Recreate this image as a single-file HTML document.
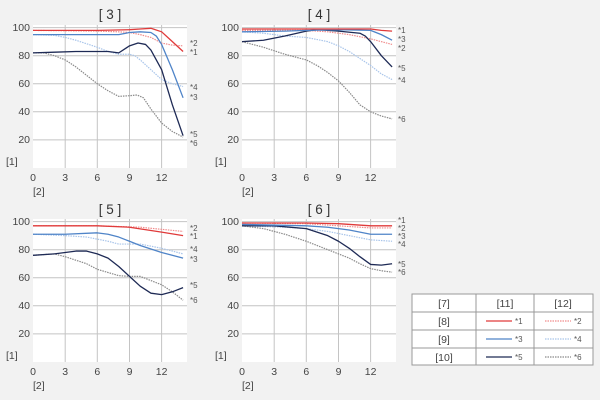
<!DOCTYPE html>
<html><head><style>
body{margin:0;background:#f2f2f2;}
svg{display:block;font-family:"Liberation Sans","DejaVu Sans",sans-serif;}
.g line{stroke:#c4c4c4;stroke-width:1}
polyline{fill:none;vector-effect:non-scaling-stroke;stroke-linejoin:round}
.s1{stroke:#e03a3a;stroke-width:1.3}
.s2{stroke:#f08c8c;stroke-width:1.2;stroke-dasharray:1.5 1}
.s3{stroke:#4f84c8;stroke-width:1.3}
.s4{stroke:#a9c5ea;stroke-width:1.2;stroke-dasharray:1.5 1}
.s5{stroke:#1e2a55;stroke-width:1.3}
.s6{stroke:#8a8a8a;stroke-width:1.2;stroke-dasharray:1.5 1}
.t{font-size:10.5px;fill:#444}
.l{font-size:8px;fill:#555}
.h{font-size:13.5px;fill:#333}
</style></head><body>
<svg width="600" height="400" viewBox="0 0 600 400">
<defs>
<g id="grid">
<rect x="0" y="-143" width="154" height="143" fill="#fff"/>
<g class="g">
<line x1="32.2" y1="-143" x2="32.2" y2="0"/><line x1="64.3" y1="-143" x2="64.3" y2="0"/>
<line x1="96.5" y1="-143" x2="96.5" y2="0"/><line x1="128.6" y1="-143" x2="128.6" y2="0"/>
<line x1="0" y1="-28.1" x2="154" y2="-28.1"/><line x1="0" y1="-56.2" x2="154" y2="-56.2"/>
<line x1="0" y1="-84.2" x2="154" y2="-84.2"/><line x1="0" y1="-112.3" x2="154" y2="-112.3"/>
<line x1="0" y1="-140.4" x2="154" y2="-140.4"/>
</g>
<text class="t" x="-3" y="-137" text-anchor="end">100</text>
<text class="t" x="-3" y="-109" text-anchor="end">80</text>
<text class="t" x="-3" y="-81" text-anchor="end">60</text>
<text class="t" x="-3" y="-53" text-anchor="end">40</text>
<text class="t" x="-3" y="-25" text-anchor="end">20</text>
<text class="t" x="0" y="13" text-anchor="middle">0</text>
<text class="t" x="32.2" y="13" text-anchor="middle">3</text>
<text class="t" x="64.3" y="13" text-anchor="middle">6</text>
<text class="t" x="96.5" y="13" text-anchor="middle">9</text>
<text class="t" x="128.6" y="13" text-anchor="middle">12</text>
<text class="t" x="-27" y="-3">[1]</text>
<text class="t" x="0" y="27">[2]</text>
</g>
</defs>

<use href="#grid" x="33" y="168"/>
<text class="h" x="110" y="19" text-anchor="middle">[ 3 ]</text>
<g transform="translate(33,168) scale(10.72,-1.404)">
<polyline class="s6" points="0,82 1,82 2,80 3,77 4,72 5,66 6,60 7,55 8,51 9,51.5 9.7,52 10.3,50 11,42 12,32 13,26 14,22"/>
<polyline class="s4" points="0,95 2,94.5 3,93 4,91 6,86 7,83 8,81 9,81 9.5,80 10,77 11,70 12,63 13,60 14,58"/>
<polyline class="s2" points="0,98 6,97.5 8,97 9,96.5 10,95 11,93 12,89 13,87.5 14,87"/>
<polyline class="s5" points="0,82 2,82.5 4,83 6,83 7,83 8,82 9,87 9.8,89 10.5,88 11,84 12,70 13,45 14,23"/>
<polyline class="s3" points="0,95 3,95 6,95 8,95 9,96.5 10,97 11,96.5 11.5,94 12,88 13,70 14,50"/>
<polyline class="s1" points="0,98 3,98 6,98 9,98.5 10,99 11,99.5 12,97 13,90 14,83"/>
</g>
<text class="l" x="190" y="46">*2</text><text class="l" x="190" y="55">*1</text>
<text class="l" x="190" y="90">*4</text><text class="l" x="190" y="100">*3</text>
<text class="l" x="190" y="137">*5</text><text class="l" x="190" y="146">*6</text>

<use href="#grid" x="242" y="168"/>
<text class="h" x="319" y="19" text-anchor="middle">[ 4 ]</text>
<g transform="translate(242,168) scale(10.72,-1.404)">
<polyline class="s6" points="0,90 2,86 4,81 6,77 7,73 8,68 9,62 10,54 11,45 12,40 13,37 14,35"/>
<polyline class="s4" points="0,97 2,96 4,94 6,93 8,90 9,87 10,83 11,78 12,73 13,67 14,63"/>
<polyline class="s2" points="0,98 6,98 8,97 10,95 12,92 13,90 14,88"/>
<polyline class="s5" points="0,90 2,91 4,94 6,97.5 7,98.5 8,98 9,97.5 11,96 11.5,94 12,90 13,80 14,72"/>
<polyline class="s3" points="0,97 4,97.5 6,98 9,98.5 12,98 13,95 14,91"/>
<polyline class="s1" points="0,99 12,99 13,98 14,97.5"/>
</g>
<text class="l" x="398" y="33">*1</text><text class="l" x="398" y="42">*3</text>
<text class="l" x="398" y="51">*2</text><text class="l" x="398" y="71">*5</text>
<text class="l" x="398" y="83">*4</text><text class="l" x="398" y="122">*6</text>

<use href="#grid" x="33" y="362"/>
<text class="h" x="110" y="214" text-anchor="middle">[ 5 ]</text>
<g transform="translate(33,362) scale(10.72,-1.404)">
<polyline class="s6" points="0,76 2,77 3,75 5,70 6,66 8,61.5 9,61 10,61 11,58 12,55 13,50 14,44"/>
<polyline class="s4" points="0,91 3,90 5,89 7,86 8,84 9,84 10,84 12,81 14,77"/>
<polyline class="s2" points="0,97 6,97 8,96.5 10,96 12,94.5 14,93"/>
<polyline class="s5" points="0,76 2,77 4,79 5,79 6,77 7,74 8,68 9,61 10,54 11,49 12,48 13,50 14,53"/>
<polyline class="s3" points="0,91 3,91 6,92 7,91 8,89 9,86 10,83 12,78 14,74"/>
<polyline class="s1" points="0,97 3,97 6,97 9,96 12,92.5 14,90"/>
</g>
<text class="l" x="190" y="231">*2</text><text class="l" x="190" y="239">*1</text>
<text class="l" x="190" y="252">*4</text><text class="l" x="190" y="262">*3</text>
<text class="l" x="190" y="288">*5</text><text class="l" x="190" y="303">*6</text>

<use href="#grid" x="242" y="362"/>
<text class="h" x="319" y="214" text-anchor="middle">[ 6 ]</text>
<g transform="translate(242,362) scale(10.72,-1.404)">
<polyline class="s6" points="0,97 2,95 4,91 6,86 8,80 10,74 11,70 12,66.5 13,65 14,64"/>
<polyline class="s4" points="0,97 4,96 6,95 8,93 10,90 12,87 14,86"/>
<polyline class="s2" points="0,99 6,98.5 9,97 12,95.5 14,95.5"/>
<polyline class="s5" points="0,97 3,97 6,95 8,90 9,86 10,81 11,75 12,69.5 13,69 14,70"/>
<polyline class="s3" points="0,98 6,97 8,96 10,94 12,91 14,91"/>
<polyline class="s1" points="0,99 6,99 9,98.5 12,97 14,97"/>
</g>
<text class="l" x="398" y="223">*1</text><text class="l" x="398" y="231">*2</text>
<text class="l" x="398" y="239">*3</text><text class="l" x="398" y="247">*4</text>
<text class="l" x="398" y="267">*5</text><text class="l" x="398" y="275">*6</text>

<g>
<rect x="412" y="294" width="181" height="71" fill="#fff" stroke="#999" stroke-width="1"/>
<line x1="476" y1="294" x2="476" y2="365" stroke="#999"/>
<line x1="534" y1="294" x2="534" y2="365" stroke="#999"/>
<line x1="412" y1="312" x2="593" y2="312" stroke="#999"/>
<line x1="412" y1="330" x2="593" y2="330" stroke="#999"/>
<line x1="412" y1="348" x2="593" y2="348" stroke="#999"/>
<text class="t" x="444" y="307" text-anchor="middle">[7]</text>
<text class="t" x="505" y="307" text-anchor="middle">[11]</text>
<text class="t" x="563" y="307" text-anchor="middle">[12]</text>
<text class="t" x="444" y="325" text-anchor="middle">[8]</text>
<text class="t" x="444" y="343" text-anchor="middle">[9]</text>
<text class="t" x="444" y="361" text-anchor="middle">[10]</text>
<line x1="486" y1="321" x2="512" y2="321" stroke="#e03a3a" stroke-width="1.3"/>
<line x1="545" y1="321" x2="571" y2="321" stroke="#f08c8c" stroke-width="1.2" stroke-dasharray="1.5 1"/>
<line x1="486" y1="339" x2="512" y2="339" stroke="#4f84c8" stroke-width="1.3"/>
<line x1="545" y1="339" x2="571" y2="339" stroke="#a9c5ea" stroke-width="1.2" stroke-dasharray="1.5 1"/>
<line x1="486" y1="357" x2="512" y2="357" stroke="#1e2a55" stroke-width="1.3"/>
<line x1="545" y1="357" x2="571" y2="357" stroke="#8a8a8a" stroke-width="1.2" stroke-dasharray="1.5 1"/>
<text class="l" x="515" y="324">*1</text><text class="l" x="574" y="324">*2</text>
<text class="l" x="515" y="342">*3</text><text class="l" x="574" y="342">*4</text>
<text class="l" x="515" y="360">*5</text><text class="l" x="574" y="360">*6</text>
</g>
</svg>
</body></html>
